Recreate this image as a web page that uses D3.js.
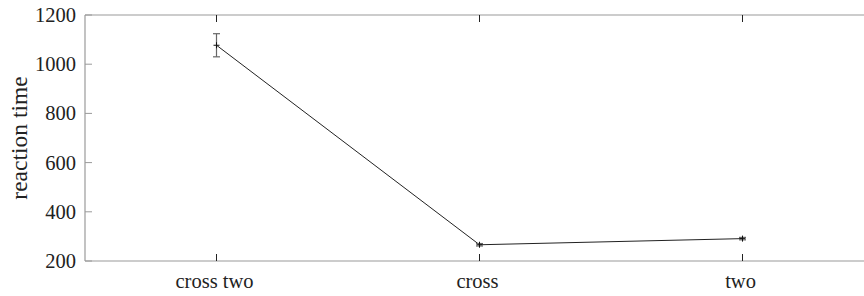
<!DOCTYPE html>
<html><head><meta charset="utf-8">
<script src="https://cdn.jsdelivr.net/npm/d3@7"></script>
<style>body{margin:0;background:#fff}svg{display:block}</style>
</head><body>
<svg id="c" width="864" height="296"></svg>
<script>
const categories = ["cross two", "cross", "two"];
const meanRT = [1077, 266, 291];
const errRT = [47, 5, 5];
const yTicks = [200, 400, 600, 800, 1000, 1200];

(function () {
const svg = d3.select("#c");
const mL = 85, mT = 15, mB = 261, mR = 874;
const x = d3.scaleLinear().domain([0.5, categories.length + 0.5]).range([mL, mR]);
const y = d3.scaleLinear().domain([200, 1200]).range([mB, mT]);
const font = "'Liberation Serif'";
const axisCol = "#9a9a9a";
const txtCol = "#222";

// frame lines (top, bottom, left)
svg.append("line").attr("x1", mL).attr("x2", 864).attr("y1", mT).attr("y2", mT).attr("stroke", axisCol).attr("stroke-width", 1.2);
svg.append("line").attr("x1", mL).attr("x2", 864).attr("y1", mB).attr("y2", mB).attr("stroke", axisCol).attr("stroke-width", 1.2);
svg.append("line").attr("x1", mL).attr("x2", mL).attr("y1", mT).attr("y2", mB).attr("stroke", axisCol).attr("stroke-width", 1.2);

// y ticks and labels
const yAxis = svg.append("g");
yTicks.forEach(t => {
  yAxis.append("line").attr("x1", mL).attr("x2", mL + 7).attr("y1", y(t)).attr("y2", y(t)).attr("stroke", axisCol);
  yAxis.append("text").attr("x", mL - 9).attr("y", y(t)).attr("dy", "0.34em").attr("text-anchor", "end")
    .style("font-family", font).style("font-size", "20.5px").attr("fill", txtCol).text(t);
});

// x ticks and labels
categories.forEach((c, i) => {
  const xx = x(i + 1);
  svg.append("line").attr("x1", xx).attr("x2", xx).attr("y1", mB).attr("y2", mB - 7).attr("stroke", "#222");
  svg.append("line").attr("x1", xx).attr("x2", xx).attr("y1", mT).attr("y2", mT + 7).attr("stroke", "#222");
  svg.append("text").attr("x", xx - 2).attr("y", 288).attr("text-anchor", "middle")
    .style("font-family", font).style("font-size", "20.5px").attr("fill", txtCol).text(c);
});

// y label
svg.append("text").attr("transform", `translate(27,${(mT + mB) / 2}) rotate(-90)`).attr("text-anchor", "middle")
  .style("font-family", font).style("font-size", "23.5px").attr("fill", txtCol).text("reaction time");

// line
const line = d3.line().x((d, i) => x(i + 1)).y(d => y(d));
svg.append("path").datum(meanRT).attr("d", line).attr("fill", "none").attr("stroke", "#222").attr("stroke-width", 1);

// error bars
const eg = svg.append("g").attr("stroke", "#666").attr("stroke-width", 1.2);
meanRT.forEach((m, i) => {
  const xx = x(i + 1), e = errRT[i];
  eg.append("line").attr("x1", xx).attr("x2", xx).attr("y1", y(m - e)).attr("y2", y(m + e));
  eg.append("line").attr("x1", xx - 3.5).attr("x2", xx + 3.5).attr("y1", y(m - e)).attr("y2", y(m - e));
  eg.append("line").attr("x1", xx - 3.5).attr("x2", xx + 3.5).attr("y1", y(m + e)).attr("y2", y(m + e));
});

// markers "+"
const mg = svg.append("g").attr("stroke", "#111").attr("stroke-width", 1);
meanRT.forEach((m, i) => {
  const xx = x(i + 1), yy = y(m);
  mg.append("line").attr("x1", xx - 3).attr("x2", xx + 3).attr("y1", yy).attr("y2", yy);
  mg.append("line").attr("x1", xx).attr("x2", xx).attr("y1", yy - 3).attr("y2", yy + 3);
});
})();
</script>
</body></html>
